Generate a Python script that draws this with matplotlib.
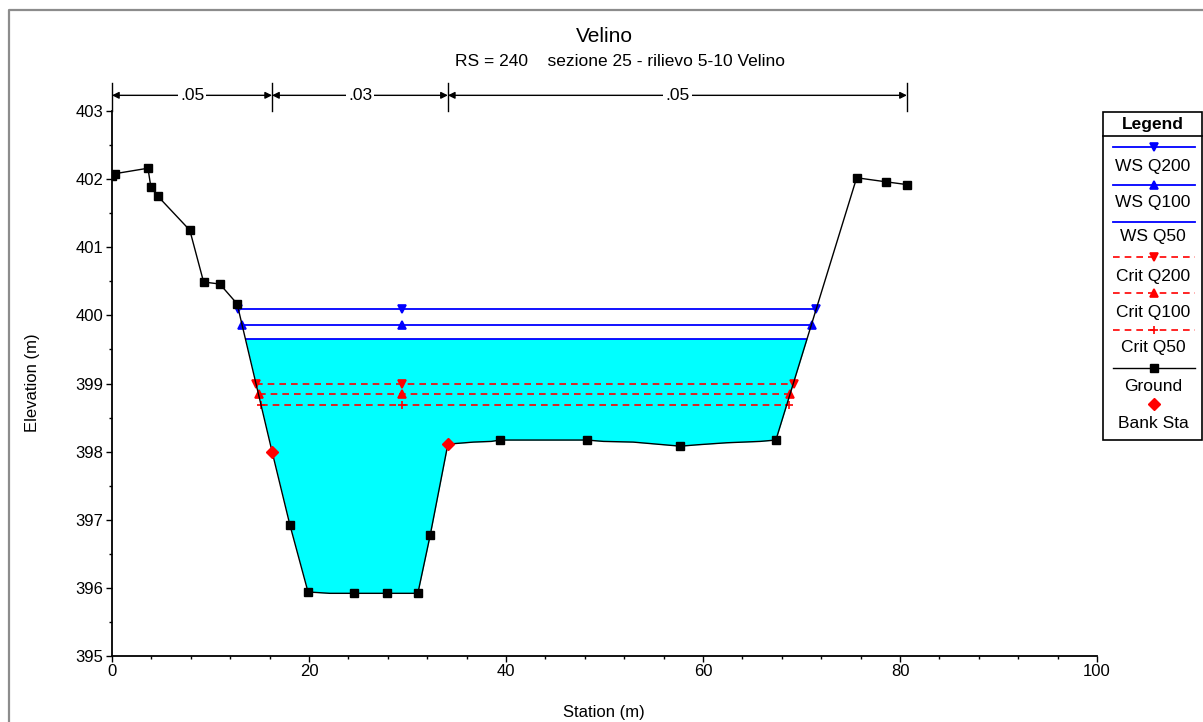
import numpy as np
import matplotlib.pyplot as plt
from matplotlib.lines import Line2D
from matplotlib.patches import Rectangle
from matplotlib.ticker import MultipleLocator

plt.rcParams['font.family'] = ['Liberation Sans', 'DejaVu Sans']

# ground profile (station m, elevation m)
ground_sta = [0, 0.3, 3.65, 3.95, 4.65, 7.9, 9.3, 10.95, 12.7, 16.25, 18.05, 19.9, 22.1,
              24.6, 27.9, 31.05, 32.3, 34.1, 36.7, 38.5, 39.4, 48.2, 49.9, 52.9, 56.1,
              57.7, 59.4, 62.4, 65.8, 67.4, 75.6, 78.6, 80.7]
ground_elev = [402.05, 402.08, 402.16, 401.88, 401.75, 401.25, 400.49, 400.46, 400.17,
               398.0, 396.93, 395.94, 395.92, 395.92, 395.92, 395.92, 396.77, 398.11,
               398.14, 398.15, 398.17, 398.17, 398.15, 398.14, 398.1, 398.08, 398.1,
               398.13, 398.15, 398.17, 402.02, 401.96, 401.92]
# vertices drawn without a marker
ground_plain = [22.1, 36.7, 38.5, 49.9, 52.9, 56.1, 59.4, 62.4, 65.8]

bank_sta = [16.25, 34.1]
bank_elev = [398.0, 398.11]

# water surfaces
ws_names = ["WS Q200", "WS Q100", "WS Q50", "Crit Q200", "Crit Q100", "Crit Q50"]
ws_elev = [400.09, 399.86, 399.66, 399.00, 398.84, 398.69]
ws_left = [12.8, 13.2, 13.6, 14.6, 14.95, 15.1]
ws_right = [71.5, 71.05, 70.5, 69.2, 68.85, 68.7]
ws_mid = 29.45

# manning's n
n_sta = [0, 16.25, 34.1, 80.7]
n_vals = [".05", ".03", ".05"]

BLUE = "#0000ff"
RED = "#ff0000"
ws_styles = [
    dict(color=BLUE, ls="-", marker="v", lw=1.3),
    dict(color=BLUE, ls="-", marker="^", lw=1.3),
    dict(color=BLUE, ls="-", marker=None, lw=1.3),
    dict(color=RED, ls=(0, (4, 3)), marker="v", lw=1.2),
    dict(color=RED, ls=(0, (4, 3)), marker="^", lw=1.2),
    dict(color=RED, ls=(0, (4, 3)), marker="+", lw=1.2),
]

W, H = 1203, 722
fig = plt.figure(figsize=(W / 100, H / 100), dpi=100)
ax = fig.add_axes([112 / W, 1 - 656 / H, 985 / W, 545 / H])

gx = np.array(ground_sta)
gy = np.array(ground_elev)

# water fill for WS Q50
ax.fill_between(gx, gy, ws_elev[2], where=gy < ws_elev[2], interpolate=True,
                color="#00ffff", lw=0, zorder=1)

for i in range(len(ws_names)):
    st = ws_styles[i]
    xs = [ws_left[i], ws_mid, ws_right[i]]
    ys = [ws_elev[i]] * 3
    ax.plot(xs, ys, color=st["color"], ls=st["ls"], lw=st["lw"], marker=st["marker"],
            ms=6, mew=1.2, zorder=2)

marked = [i for i, s in enumerate(ground_sta) if s not in ground_plain and s not in bank_sta]
ax.plot(gx, gy, color="black", lw=1.0, marker="s", ms=6, markevery=marked, zorder=3)
ax.plot(bank_sta, bank_elev, ls="none", marker="D", color=RED, ms=6, zorder=4)

ax.set_xlim(0, 100)
ax.set_ylim(395, 403)
ax.xaxis.set_major_locator(MultipleLocator(20))
ax.xaxis.set_minor_locator(MultipleLocator(4))
ax.yaxis.set_major_locator(MultipleLocator(1))
ax.yaxis.set_minor_locator(MultipleLocator(0.5))
ax.spines["top"].set_visible(False)
ax.spines["right"].set_visible(False)
ax.spines["left"].set_linewidth(1.3)
ax.spines["bottom"].set_linewidth(1.3)
ax.tick_params(which="major", direction="out", length=4, width=1, labelsize=12, pad=2)
ax.tick_params(which="minor", direction="out", length=2.5, width=1)
ax.patch.set_alpha(0)

# manning's n bars
bar_top, arr_y = 403.41, 403.23
for s in n_sta:
    ax.plot([s, s], [403, bar_top], color="black", lw=1, clip_on=False)
for i in range(len(n_vals)):
    ax.annotate("", xy=(n_sta[i + 1], arr_y), xytext=(n_sta[i], arr_y),
                arrowprops=dict(arrowstyle="<|-|>", color="black", lw=1,
                                shrinkA=0, shrinkB=0, mutation_scale=10),
                annotation_clip=False)
    ax.text((n_sta[i] + n_sta[i + 1]) / 2, arr_y, n_vals[i], ha="center", va="center",
            fontsize=12.5, bbox=dict(facecolor="white", edgecolor="none", pad=1.5),
            clip_on=False)

# titles and labels
fig.text(604 / W, 1 - 36 / H, "Velino", ha="center", va="center", fontsize=15)
fig.text(620 / W, 1 - 62 / H, "RS = 240    sezione 25 - rilievo 5-10 Velino",
         ha="center", va="center", fontsize=12.5)
fig.text(604 / W, 1 - 712 / H, "Station (m)", ha="center", va="center", fontsize=12)
fig.text(33 / W, 1 - 383 / H, "Elevation (m)", ha="center", va="center",
         rotation=90, fontsize=12)

# legend box
def fx(px):
    return px / W


def fy(py):
    return 1 - py / H


fig.patches.append(Rectangle((fx(1103), fy(440)), fx(1201.5) - fx(1103), fy(111.7) - fy(440),
                             transform=fig.transFigure, fill=False, edgecolor="black", lw=1.2))
fig.lines.append(Line2D([fx(1103), fx(1201.5)], [fy(136), fy(136)],
                        transform=fig.transFigure, color="black", lw=1.2))
fig.text(fx(1153), fy(124), "Legend", ha="center", va="center", fontsize=12.5, weight="bold")

line_ys = [147.3, 185, 221.7, 257.3, 293.3, 330]
text_ys = [166.7, 203, 237, 276, 312.3, 347.3]
for i in range(len(ws_names)):
    st = ws_styles[i]
    fig.lines.append(Line2D([fx(1113), fx(1195)], [fy(line_ys[i])] * 2,
                            transform=fig.transFigure, color=st["color"], ls=st["ls"],
                            lw=st["lw"]))
    if st["marker"]:
        fig.lines.append(Line2D([fx(1154)], [fy(line_ys[i])], transform=fig.transFigure,
                                color=st["color"], marker=st["marker"], ms=6, mew=1.2))
    fig.text(fx(1153), fy(text_ys[i]), ws_names[i], ha="center", va="center", fontsize=12.5)

fig.lines.append(Line2D([fx(1113), fx(1195)], [fy(367.7)] * 2, transform=fig.transFigure,
                        color="black", lw=1.0))
fig.lines.append(Line2D([fx(1154)], [fy(367.7)], transform=fig.transFigure, color="black",
                        marker="s", ms=6))
fig.text(fx(1153), fy(386.7), "Ground", ha="center", va="center", fontsize=12.5)
fig.lines.append(Line2D([fx(1154)], [fy(404)], transform=fig.transFigure, color=RED,
                        marker="D", ms=6, ls="none"))
fig.text(fx(1153), fy(423.3), "Bank Sta", ha="center", va="center", fontsize=12.5)

# window border
fig.lines.append(Line2D([fx(8.5), fx(8.5), fx(1203)], [fy(722), fy(10), fy(10)],
                        transform=fig.transFigure, color="#8c8c8c", lw=1.6))

fig.savefig("out.png", dpi=100)
plt.close(fig)
